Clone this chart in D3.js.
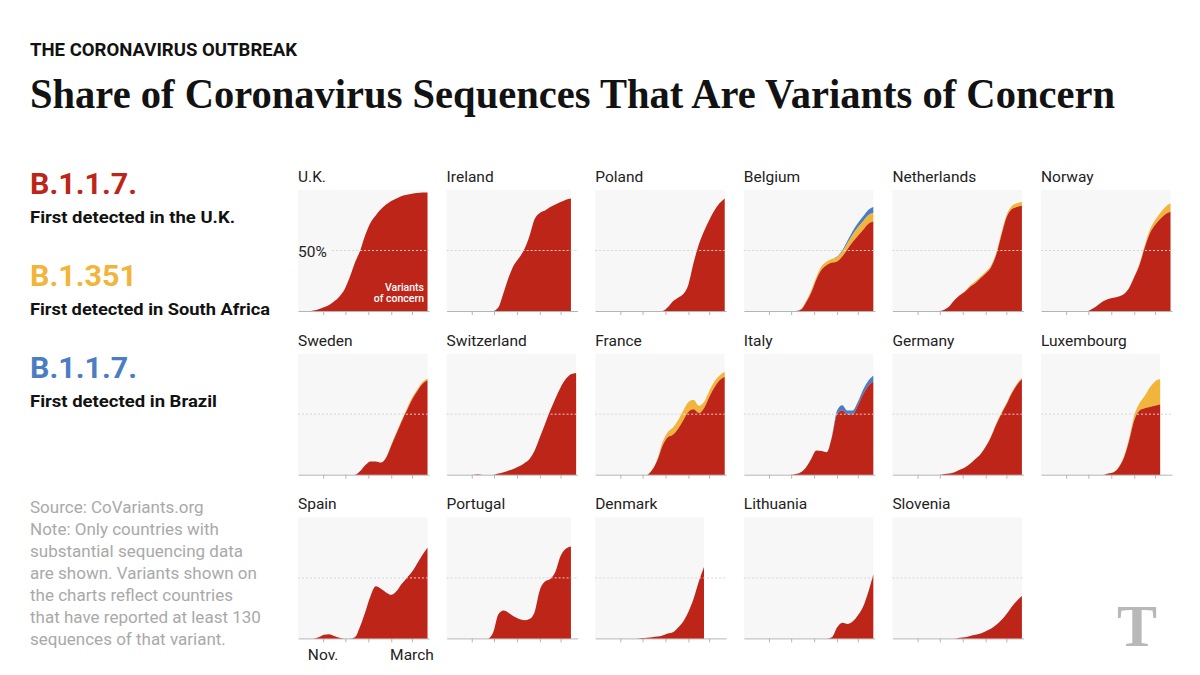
<!DOCTYPE html>
<html>
<head>
<meta charset="utf-8">
<script src="https://cdn.jsdelivr.net/npm/d3@7"></script>
<style>
  html, body { margin: 0; padding: 0; background: #fff; }
  svg { display: block; }
</style>
</head>
<body>
<svg id="chart" width="1200" height="675"></svg>
<script>
// ---------- DATA ----------
const weeks = ["2020-09-28","2020-10-05","2020-10-12","2020-10-19","2020-10-26","2020-11-02","2020-11-09",
  "2020-11-16","2020-11-23","2020-11-30","2020-12-07","2020-12-14","2020-12-21","2020-12-28","2021-01-04",
  "2021-01-11","2021-01-18","2021-01-25","2021-02-01","2021-02-08","2021-02-15","2021-02-22","2021-03-01",
  "2021-03-08","2021-03-15","2021-03-22"];
const monthTicks = ["2020-11-01","2020-12-01","2021-01-01","2021-02-01","2021-03-01"];
const tickLabels = ["Nov.","","","","March"];
const countries = ["U.K.","Ireland","Poland","Belgium","Netherlands","Norway",
  "Sweden","Switzerland","France","Italy","Germany","Luxembourg",
  "Spain","Portugal","Denmark","Lithuania","Slovenia"];
const variantNames = ["B.1.1.7.","B.1.351","B.1.1.7."];
const variantNotes = ["First detected in the U.K.","First detected in South Africa","First detected in Brazil"];

// share of sequences (%), B.1.1.7 (UK)
const ukRed = [0,0,0,0.5,1.5,3,5,8,12,18,28,40,50,63,73,79,84,88,91,93,95,96,97,97.5,98,98];
const irelandRed = [0,0,0,0,0,0,0,0,0,0,3,15,28,38,44,51,62,76,81,83,86,88,90,92,93];
const polandRed = [0,0,0,0,0,0,0,0,0,0,0,0,0,0,3,8,11,14,22,40,55,66,75,83,89,93];
const belgiumRed = [0,0,0,0,0,0,0,0,0,0,0,1,7,15,26,34,38,40,41,45,51,57,62,67,72,74];
const netherlandsRed = [0,0,0,0,0,0,0,0,0,0,1,4,9,13,16,20,23,27,31,36,46,62,77,84,86,87];
const norwayRed = [0,0,0,0,0,0,0,0,0,0,2,5,8,10,11,12,14,19,28,38,52,64,71,76,80,82];
const swedenRed = [0,0,0,0,0,0,0,0,0,0,0,0,3,8,11,11,10,14,24,34,44,53,62,69,75,78];
const switzerlandRed = [0,0,0,0,0,0,0.3,0,0,0,1,2,3.5,5,7,9.5,13,20,31,42,53,63,72,79,83,84];
const franceRed = [0,0,0,0,0,0,0,0,0,0,0,4,12,24,31,33,38,45,52,54,51,55,64,72,78,81];
const italyRed = [0,0,0,0,0,0,0,0,0,0,0.5,2,6,13,20,19.5,18.5,31,50,53,50,50,57,66,73,77];
const germanyRed = [0,0,0,0,0,0,0,0,0,0,0.5,1,2,4,6,9,13,17,23,31,41,50,58,67,74,79];
const luxembourgRed = [0,0,0,0,0,0,0,0,0,0,0,0,0,1,2,6,14,28,45,53,55,56,57,58];
const spainRed = [0,0,0,0,1,3,3.5,2,0.5,0,0,1,10,22,35,43,41,38,36,39,45,50,55,62,69,75];
const portugalRed = [0,0,0,0,0,0,0,0,0,5,20,23,21,18,16,15,16,22,40,47,49,55,68,74,76];
const denmarkRed = [0,0,0,0,0,0,0,0,0,0.3,0.5,1,1.5,2.5,4,5,9,14,22,33,47,59];
const lithuaniaRed = [0,0,0,0,0,0,0,0,0,0,0,0,0,0,0,0,0,1,9,13,12,14,19,26,38,53];
const sloveniaRed = [0,0,0,0,0,0,0,0,0,0,0,0,0,0.5,1,2,3,4,6,8,11,15,20,26,31,35];

// B.1.351 (South Africa)
const belgiumYellow = [0,0,0,0,0,0,0,0,0,0,0,0.5,1,2,2,3,3,3,3.5,4,5,6,7,7,7,7];
const netherlandsYellow = [0,0,0,0,0,0,0,0,0,0,0,0,0,0,0.5,1,1.5,1.5,1.5,1.5,1.5,2,2,2.5,3,3];
const norwayYellow = [0,0,0,0,0,0,0,0,0,0,0,0,0,0,0,0,0,0,0.5,1,2,3,4,5,6,7];
const swedenYellow = [0,0,0,0,0,0,0,0,0,0,0,0,0,0,0,0,0,0.5,1,1,1,1.5,1.5,1.5,1.5,1.5];
const franceYellow = [0,0,0,0,0,0,0,0,0,0,0,0,1,3,4,6,7,8,8,8,6,5,5,5,4,4];
const germanyYellow = [0,0,0,0,0,0,0,0,0,0,0,0,0,0,0,0,0,0,0.5,0.5,1,1,1,1,1,1];
const luxembourgYellow = [0,0,0,0,0,0,0,0,0,0,0,0,0,0,0,0.5,1,2,4,6,10,16,20,21];

// P.1 (Brazil)
const belgiumBlue = [0,0,0,0,0,0,0,0,0,0,0,0,0,0,0,0,0,0,0.5,1,2,3,3.5,4,4.5,5];
const italyBlue = [0,0,0,0,0,0,0,0,0,0,0,0,0,0,0,0,0,0.5,3,4.5,3,3,3,4,4.5,5];

const panels = [
  {name: countries[0], red: ukRed},
  {name: countries[1], red: irelandRed},
  {name: countries[2], red: polandRed},
  {name: countries[3], red: belgiumRed, yellow: belgiumYellow, blue: belgiumBlue},
  {name: countries[4], red: netherlandsRed, yellow: netherlandsYellow},
  {name: countries[5], red: norwayRed, yellow: norwayYellow},
  {name: countries[6], red: swedenRed, yellow: swedenYellow},
  {name: countries[7], red: switzerlandRed},
  {name: countries[8], red: franceRed, yellow: franceYellow},
  {name: countries[9], red: italyRed, blue: italyBlue},
  {name: countries[10], red: germanyRed, yellow: germanyYellow},
  {name: countries[11], red: luxembourgRed, yellow: luxembourgYellow},
  {name: countries[12], red: spainRed},
  {name: countries[13], red: portugalRed},
  {name: countries[14], red: denmarkRed},
  {name: countries[15], red: lithuaniaRed},
  {name: countries[16], red: sloveniaRed}
];

// ---------- STYLE ----------
const RED = "#bd2519", YELLOW = "#f2b53c", BLUE = "#4a7dc3";
const SANS = "Roboto, 'Noto Sans', 'Liberation Sans', sans-serif";
const SERIF = "'Liberation Serif', 'DejaVu Serif', serif";

const svg = d3.select("#chart");
const parse = d3.timeParse("%Y-%m-%d");

// Header
svg.append("text").attr("x", 30).attr("y", 56)
  .attr("font-family", SANS).attr("font-weight", 700).attr("font-size", 17.5)
  .attr("fill", "#121212").attr("textLength", 267).attr("lengthAdjust", "spacingAndGlyphs")
  .text("THE CORONAVIRUS OUTBREAK");
svg.append("text").attr("x", 30).attr("y", 108)
  .attr("font-family", SERIF).attr("font-weight", 700).attr("font-size", 42)
  .attr("fill", "#121212").attr("textLength", 1085).attr("lengthAdjust", "spacingAndGlyphs")
  .text("Share of Coronavirus Sequences That Are Variants of Concern");

// Legend
const legendColors = [RED, YELLOW, BLUE];
const legendLabelWidths = [107, 107, 107];
const legendNoteWidths = [205, 240, 187];
variantNames.forEach((v, i) => {
  const y0 = 194 + i * 92;
  svg.append("text").attr("x", 30).attr("y", y0)
    .attr("font-family", SANS).attr("font-weight", 700).attr("font-size", 29.5)
    .attr("textLength", legendLabelWidths[i]).attr("lengthAdjust", "spacingAndGlyphs")
    .attr("fill", legendColors[i]).text(v);
  svg.append("text").attr("x", 30).attr("y", y0 + 29)
    .attr("font-family", SANS).attr("font-weight", 700).attr("font-size", 17)
    .attr("textLength", legendNoteWidths[i]).attr("lengthAdjust", "spacingAndGlyphs")
    .attr("fill", "#121212").text(variantNotes[i]);
});

// Source note
const noteLines = ["Source: CoVariants.org","Note: Only countries with","substantial sequencing data",
  "are shown. Variants shown on","the charts reflect countries","that have reported at least 130",
  "sequences of that variant."];
noteLines.forEach((t, i) => {
  svg.append("text").attr("x", 30).attr("y", 513 + i * 22)
    .attr("font-family", SANS).attr("font-size", 17).attr("fill", "#a9a9a9").text(t);
});

// NYT logo placeholder (text)
svg.append("text").attr("x", 1137).attr("y", 646).attr("text-anchor", "middle")
  .attr("font-family", SERIF).attr("font-weight", 700).attr("font-size", 60)
  .attr("fill", "#b8b8b8").text("T");

// ---------- SMALL MULTIPLES ----------
const W = 131, H = 121;
const x = d3.scaleTime().domain([parse("2020-09-28"), parse("2021-03-24")]).range([0, W]);
const y = d3.scaleLinear().domain([0, 100]).range([H, 0]);
const colors = {r: RED, yl: YELLOW, b: BLUE};

panels.forEach((p, idx) => {
  const col = idx % 6, row = Math.floor(idx / 6);
  const g = svg.append("g")
    .attr("transform", `translate(${298 + col * 148.6},${190 + row * 163.7})`);

  const rows = p.red.map((v, i) => ({
    date: parse(weeks[i]), r: v,
    yl: p.yellow ? p.yellow[i] : 0,
    b: p.blue ? p.blue[i] : 0
  }));
  const lastDate = rows[rows.length - 1].date;

  g.append("text").attr("x", 0).attr("y", -8)
    .attr("font-family", SANS).attr("font-size", 15.5).attr("fill", "#222").text(p.name);

  g.append("rect").attr("x", 0).attr("y", 0)
    .attr("width", x(lastDate)).attr("height", H).attr("fill", "#f7f7f7");

  const axis = d3.axisBottom(x).tickValues(monthTicks.map(parse)).tickSize(4).tickSizeOuter(0).tickFormat("");
  const ax = g.append("g").attr("transform", `translate(0,${H})`).call(axis);
  ax.select(".domain").attr("stroke", "#b5b5b5");
  ax.selectAll(".tick line").attr("stroke", "#b5b5b5");

  const dashStart = idx === 0 ? 34 : 0;
  g.append("line").attr("x1", dashStart).attr("x2", W).attr("y1", y(50)).attr("y2", y(50))
    .attr("stroke", "#d6d6d6").attr("stroke-dasharray", "2,2");

  const stack = d3.stack().keys(["r", "yl", "b"])(rows);
  const area = d3.area().curve(d3.curveMonotoneX)
    .x(d => x(d.data.date)).y0(d => y(d[0])).y1(d => y(d[1]));
  stack.slice().reverse().forEach(s => {
    const hasData = rows.some(d => d[s.key] > 0);
    if (!hasData) return;
    g.append("path").datum(s).attr("d", area).attr("fill", colors[s.key]);
  });

  // white dashed 50% line over the filled area
  const totalArea = d3.area().curve(d3.curveMonotoneX)
    .x(d => x(d.date)).y0(H).y1(d => y(d.r + d.yl + d.b));
  const clipId = "clip" + idx;
  g.append("clipPath").attr("id", clipId).append("path").datum(rows).attr("d", totalArea);
  g.append("line").attr("x1", dashStart).attr("x2", W).attr("y1", y(50)).attr("y2", y(50))
    .attr("stroke", "#ffffff").attr("stroke-opacity", 0.75).attr("stroke-dasharray", "2,2")
    .attr("clip-path", `url(#${clipId})`);

  if (idx === 0) {
    g.append("text").attr("x", 0).attr("y", y(50) + 6)
      .attr("font-family", SANS).attr("font-size", 15.5).attr("fill", "#222").text("50%");
    g.append("text").attr("x", 126).attr("y", 101).attr("text-anchor", "end")
      .attr("font-family", SANS).attr("font-size", 10.5).attr("font-weight", 500).attr("fill", "#fff").text("Variants");
    g.append("text").attr("x", 126).attr("y", 112).attr("text-anchor", "end")
      .attr("font-family", SANS).attr("font-size", 10.5).attr("font-weight", 500).attr("fill", "#fff").text("of concern");
  }
  if (idx === 12) {
    monthTicks.forEach((m, i) => {
      if (!tickLabels[i]) return;
      g.append("text").attr("x", x(parse(m))).attr("y", H + 22).attr("text-anchor", "middle")
        .attr("font-family", SANS).attr("font-size", 15.5).attr("fill", "#222").text(tickLabels[i]);
    });
  }
});
</script>
</body>
</html>
